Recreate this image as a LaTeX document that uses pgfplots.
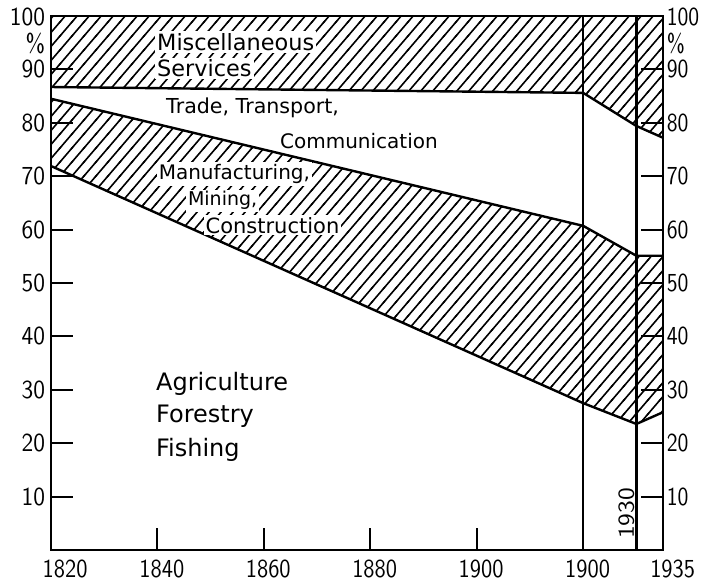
\documentclass[border=0pt]{standalone}
\usepackage{fontspec}
\usepackage{pgfplots}
\pgfplotsset{compat=1.18}
\usetikzlibrary{patterns}
\newfontfamily\lab{DejaVu Sans}
\newcommand{\tfont}{\sffamily\fontsize{13}{15}\selectfont}
\tikzset{lbl/.style={anchor=west, fill=white, inner sep=1pt}}
\pgfdeclarepatternformonly{hatchNE}{\pgfqpoint{-1pt}{-1pt}}{\pgfqpoint{7pt}{8pt}}{\pgfqpoint{6pt}{7pt}}{%
  \pgfsetlinewidth{0.8pt}%
  \pgfpathmoveto{\pgfqpoint{-0.43pt}{-0.5pt}}%
  \pgfpathlineto{\pgfqpoint{6.43pt}{7.5pt}}%
  \pgfusepath{stroke}}
\begin{document}
\begin{tikzpicture}
\useasboundingbox (-25.5pt,-16pt) rectangle (325pt,275pt);
\pgfplotsset{
  common/.style={
    scale only axis, width=306pt, height=267pt,
    at={(0pt,0pt)}, anchor=south west,
    xmin=1820, xmax=1935, ymin=0, ymax=100,
    axis line style={line width=1.2pt},
    tick style={line width=1pt, black},
    major tick length=11pt,
    tick align=inside,
    /pgf/number format/assume math mode=true,
    ticklabel style={font=\tfont},
    xticklabel style={yshift=-1.5pt, xscale=0.88},
    ytick={10,20,...,90},
    extra y ticks={99.8,94.8},
    extra y tick labels={100,\%},
  },
  hatch/.style={draw=none, pattern=hatchNE},
  bound/.style={line width=1.2pt, black},
}
\begin{axis}[common,
  axis on top,
  xtick={1840,1860,1880,1900,1920},
  xticklabels={1840,1860,1880,1900,1900},
  xticklabel style={xshift=2.5pt},
  yticklabel style={inner sep=3pt, xscale=0.92},
  xtick pos=left, ytick pos=left, yticklabel pos=left,
  extra y tick style={major tick length=0pt},
  extra x ticks={1820},
  extra x tick labels={1820},
  extra x tick style={major tick length=0pt, xticklabel style={xshift=5.5pt}},
]
% Miscellaneous services (hatched)
\addplot[hatch] coordinates {(1820,100) (1935,100) (1935,77.2) (1930,79.4) (1920,85.6) (1820,86.7)} -- cycle;
% Manufacturing, mining, construction (hatched)
\addplot[hatch] coordinates {(1820,84.5) (1920,60.7) (1930,55.1) (1935,55.1) (1935,25.8) (1930,23.6) (1920,27.5) (1820,71.9)} -- cycle;
% boundaries
\addplot[bound] coordinates {(1820,86.7) (1920,85.6) (1930,79.4) (1935,77.2)};
\addplot[bound] coordinates {(1820,84.5) (1920,60.7) (1930,55.1) (1935,55.1)};
\addplot[bound] coordinates {(1820,71.9) (1920,27.5) (1930,23.6) (1935,25.8)};
\addplot[bound] coordinates {(1920,0) (1920,100)};
\addplot[bound] coordinates {(1930,0) (1930,100)};
% labels
\node[lbl, font=\lab\fontsize{11.2}{13}\selectfont] at (axis cs:1839.5,95.1) {Miscellaneous};
\node[lbl, font=\lab\fontsize{11.2}{13}\selectfont] at (axis cs:1839.5,90.2) {Services};
\node[lbl, font=\lab\fontsize{10.3}{12}\selectfont, fill=none] at (axis cs:1841.2,82.8) {Trade, Transport,};
\node[lbl, font=\lab\fontsize{10}{12}\selectfont, fill=none] at (axis cs:1862.6,76.6) {Communication};
\node[lbl, font=\lab\fontsize{10}{12}\selectfont] at (axis cs:1839.8,70.4) {Manufacturing,};
\node[lbl, font=\lab\fontsize{9.5}{11}\selectfont] at (axis cs:1845.3,65.4) {Mining,};
\node[lbl, font=\lab\fontsize{10.5}{12}\selectfont] at (axis cs:1848.6,60.8) {Construction};
\node[lbl, font=\lab\fontsize{12}{14}\selectfont, fill=none] at (axis cs:1839.3,31.2) {Agriculture};
\node[lbl, font=\lab\fontsize{12}{14}\selectfont, fill=none] at (axis cs:1839.3,25.0) {Forestry};
\node[lbl, font=\lab\fontsize{12}{14}\selectfont, fill=none] at (axis cs:1839.3,18.8) {Fishing};
\node[rotate=90, anchor=west, inner sep=0pt, font=\tfont, yscale=0.88] at (axis cs:1928.1,2.0) {1930};
\end{axis}
\begin{axis}[common,
  xtick={1935}, xticklabels={1935},
  xticklabel style={xshift=5.5pt},
  yticklabel style={inner sep=2pt, xscale=0.85},
  xtick pos=left, ytick pos=right, yticklabel pos=right,
  extra y tick style={major tick length=0pt},
]
\end{axis}
\end{tikzpicture}
\end{document}
